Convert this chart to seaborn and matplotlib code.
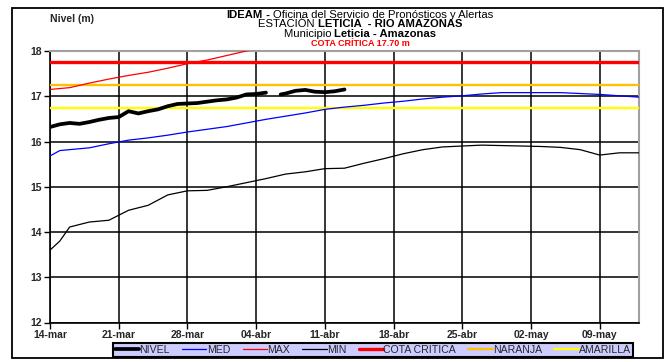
import pandas as pd
import seaborn as sns
import matplotlib.pyplot as plt
from matplotlib.patches import Rectangle

# Datos (niveles en m)
inicio = pd.Timestamp('2024-03-14')

dias_nivel_a = list(range(0, 23))
nivel_a = [16.32, 16.38, 16.41, 16.39, 16.43, 16.48, 16.52, 16.54, 16.67, 16.62,
           16.67, 16.71, 16.78, 16.83, 16.84, 16.85, 16.88, 16.91, 16.93, 16.97,
           17.04, 17.05, 17.08]
dias_nivel_b = [23.5] + list(range(24, 31))
nivel_b = [17.04, 17.06, 17.12, 17.14, 17.10, 17.09, 17.11, 17.15]

dias_curva = [0, 1, 2] + list(range(4, 61, 2))
med = [15.68, 15.80, 15.82, 15.86, 15.95, 16.03, 16.08, 16.14, 16.21, 16.27,
       16.33, 16.41, 16.49, 16.56, 16.63, 16.71, 16.76, 16.80, 16.85, 16.89,
       16.94, 16.98, 17.01, 17.05, 17.08, 17.08, 17.08, 17.08, 17.06, 17.04,
       17.01, 16.98]
minimo = [13.60, 13.80, 14.11, 14.22, 14.26, 14.48, 14.59, 14.82, 14.91, 14.92,
          15.00, 15.09, 15.18, 15.28, 15.33, 15.40, 15.41, 15.52, 15.62, 15.73,
          15.82, 15.88, 15.90, 15.92, 15.91, 15.90, 15.89, 15.87, 15.82, 15.70,
          15.75, 15.75]

dias_max = [0, 1, 2] + list(range(4, 23, 2))
maximo = [17.15, 17.17, 17.19, 17.29, 17.38, 17.46, 17.53, 17.62, 17.72, 17.80,
          17.90, 18.00, 18.08]

cota_critica = 17.75
naranja = 17.25
amarilla = 16.75

ticks_fecha = ['2024-03-14', '2024-03-21', '2024-03-28', '2024-04-04', '2024-04-11',
               '2024-04-18', '2024-04-25', '2024-05-02', '2024-05-09']
ticks_etiqueta = ['14-mar', '21-mar', '28-mar', '04-abr', '11-abr',
                  '18-abr', '25-abr', '02-may', '09-may']


def fechas(dias):
    return inicio + pd.to_timedelta(dias, unit='D')


sns.set_style('white')
plt.rcParams['font.family'] = ['Liberation Sans', 'DejaVu Sans']

W, H = 668, 362
fig = plt.figure(figsize=(W / 100, H / 100), dpi=100)
ax = fig.add_axes([50 / W, 1 - 322.5 / H, (639 - 50) / W, (322.5 - 51) / H])

# marco exterior
fig.patches.append(Rectangle((11.7 / W, 1 - 357.5 / H), (663.3 - 11.7) / W, (357.5 - 8.3) / H,
                             transform=fig.transFigure, fill=False, edgecolor='black', lw=1.3))

sns.lineplot(x=fechas(dias_nivel_a), y=nivel_a, color='black', lw=2.7, ax=ax,
             label='NIVEL', zorder=6)
sns.lineplot(x=fechas(dias_nivel_b), y=nivel_b, color='black', lw=2.7, ax=ax, zorder=6)
sns.lineplot(x=fechas(dias_curva), y=med, color='#0000FF', lw=0.9, ax=ax, label='MED', zorder=5)
sns.lineplot(x=fechas(dias_max), y=maximo, color='#FF0000', lw=0.9, ax=ax, label='MAX', zorder=5)
sns.lineplot(x=fechas(dias_curva), y=minimo, color='black', lw=0.9, ax=ax, label='MIN', zorder=5)
ax.axhline(cota_critica, color='#FF0000', lw=2.4, label='COTA CRITICA', zorder=4)
ax.axhline(naranja, color='#FFC000', lw=1.7, label='NARANJA', zorder=4)
ax.axhline(amarilla, color='#FFFF00', lw=1.7, label='AMARILLA', zorder=4)

handles, labels = ax.get_legend_handles_labels()
if ax.get_legend() is not None:
    ax.get_legend().remove()

ax.set_xlim(inicio, fechas(60))
ax.set_ylim(12, 18)
ax.set_yticks(range(12, 19))
ax.set_xticks(pd.to_datetime(ticks_fecha))
ax.set_xticklabels(ticks_etiqueta)
ax.set_xlabel('')
ax.set_ylabel('')
ax.grid(True, color='black', lw=1.1)
ax.set_axisbelow(True)
ax.tick_params(axis='both', direction='out', length=4, width=1, color='black',
               labelsize=7.5, pad=1.5, left=True, bottom=True)
for lab in ax.get_xticklabels() + ax.get_yticklabels():
    lab.set_fontweight('bold')
for lado in ['top', 'right']:
    ax.spines[lado].set_color('#A0A0A0')
    ax.spines[lado].set_linewidth(1.5)
for lado in ['left', 'bottom']:
    ax.spines[lado].set_color('black')
    ax.spines[lado].set_linewidth(1.2)

# titulos con partes en negrita
renderer = fig.canvas.get_renderer()


def linea_titulo(partes, y, size=8.1, color='black', cx=360):
    textos = [fig.text(0, 1 - y / H, t, fontsize=size, fontweight=w, color=color,
                       va='center', ha='left') for t, w in partes]
    anchos = [t.get_window_extent(renderer).width for t in textos]
    x = cx - sum(anchos) / 2
    for t, a in zip(textos, anchos):
        t.set_x(x / W)
        x += a


linea_titulo([('IDEAM', 'bold'), (' - ', 'bold'),
              ('Oficina del Servicio de Pronósticos y Alertas', 'normal')], 14.7)
linea_titulo([('ESTACIÓN ', 'normal'), ('LETICIA  - RIO AMAZONAS', 'bold')], 24.3)
linea_titulo([('Municipio ', 'normal'), ('Leticia - Amazonas', 'bold')], 34)
linea_titulo([('COTA CRÍTICA 17.70 m', 'bold')], 43.3, size=6.5, color='#FF0000')
fig.text(72 / W, 1 - 19.3 / H, 'Nivel (m)', fontsize=7.5, fontweight='bold',
         ha='center', va='center')

leg = fig.legend(handles, labels, loc='center', bbox_to_anchor=(373 / W, 1 - 350 / H),
                 ncol=7, fontsize=7.6, handlelength=2.3, handletextpad=0.05,
                 columnspacing=1.15, borderpad=0.2, fancybox=False, framealpha=1,
                 facecolor='#CCCCFF', edgecolor='black')
leg.get_frame().set_linewidth(1.5)

plt.savefig('out.png', dpi=100)
